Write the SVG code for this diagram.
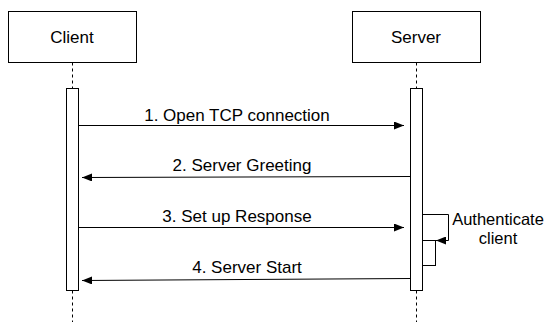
<svg xmlns="http://www.w3.org/2000/svg" width="544" height="322" viewBox="0 0 544 322">
<defs>
<style>
.box{fill:#fff;stroke:#000;stroke-width:1}
.life{stroke:#000;stroke-width:1;stroke-dasharray:3,3;fill:none}
.act{fill:#fff;stroke:#000;stroke-width:1}
.msg{stroke:#000;stroke-width:1;fill:none}
text{font-family:"Liberation Sans",Arial,sans-serif;font-size:17px;fill:#000}
.c{text-anchor:middle}
</style>
<marker id="ah" viewBox="0 0 10 8" refX="10" refY="4" markerWidth="10" markerHeight="8" markerUnits="userSpaceOnUse" orient="auto">
<path d="M0,0 L10,4 L0,8 Z" fill="#000"/>
</marker>
</defs>
<rect width="544" height="322" fill="#fff"/>
<g id="client">
<rect class="box" x="8.5" y="11.5" width="128" height="51"/>
<text class="c" x="72" y="43">Client</text>
<line class="life" x1="72.5" y1="62.5" x2="72.5" y2="322"/>
<rect class="act" x="66.5" y="88.5" width="12" height="202"/>
</g>
<g id="server">
<rect class="box" x="352.5" y="11.5" width="128" height="51"/>
<text class="c" x="416" y="43">Server</text>
<line class="life" x1="416.5" y1="62.5" x2="416.5" y2="322"/>
<rect class="act" x="410.5" y="88.5" width="12" height="202"/>
<rect class="act" x="422.5" y="240.5" width="13" height="25"/>
</g>
<g id="connectors">
<line class="msg" x1="78.5" y1="125.5" x2="404" y2="125.5" marker-end="url(#ah)"/>
<text class="c" x="237" y="121">1. Open TCP connection</text>
<line class="msg" x1="410.5" y1="176.5" x2="82" y2="177.5" marker-end="url(#ah)"/>
<text class="c" x="242" y="171">2. Server Greeting</text>
<line class="msg" x1="78.5" y1="227.5" x2="404" y2="227.5" marker-end="url(#ah)"/>
<text class="c" x="237" y="222">3. Set up Response</text>
<line class="msg" x1="410.5" y1="278.5" x2="82" y2="280.5" marker-end="url(#ah)"/>
<text class="c" x="247" y="273">4. Server Start</text>
<polyline class="msg" points="422.5,214.5 448.5,214.5 448.5,240.5 436,240.5" marker-end="url(#ah)"/>
<text class="c" x="498" y="225" style="font-size:16.5px">Authenticate</text>
<text class="c" x="498" y="244" style="font-size:16.5px">client</text>
</g>
</svg>
